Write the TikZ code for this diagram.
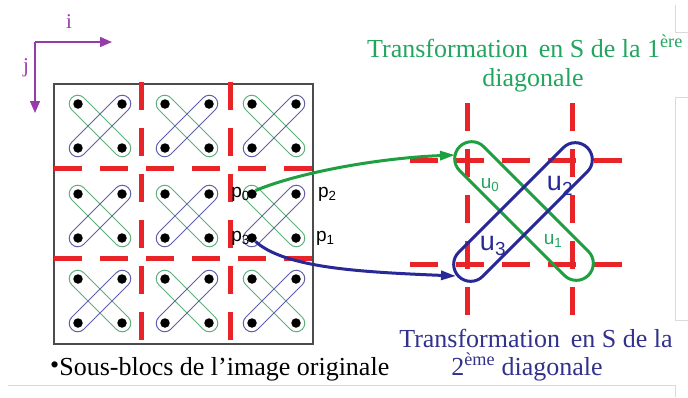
\documentclass[tikz,border=0pt]{standalone}
\usepackage{fontspec}
\setmainfont{Liberation Serif}
\setsansfont{Liberation Sans}
\usepackage{tikz}
\usetikzlibrary{arrows.meta,positioning,calc}
\usepackage{xcolor}
\definecolor{gridred}{RGB}{232,36,40}
\definecolor{loopgreen}{RGB}{95,175,125}
\definecolor{loopblue}{RGB}{95,95,170}
\definecolor{sgreen}{RGB}{30,160,65}
\definecolor{sblue}{RGB}{40,40,150}
\definecolor{tgreen}{RGB}{35,165,95}
\definecolor{tblue}{RGB}{50,50,140}
\definecolor{axpurple}{RGB}{150,60,170}
\definecolor{framegray}{RGB}{218,218,218}

\begin{document}
\begin{tikzpicture}[x=1pt,y=-1pt,
  dot/.style={circle,fill=black,inner sep=0pt,minimum size=9.5pt},
  loopg/.style={draw=loopgreen,line width=1pt,rounded corners=8.5pt,minimum width=80pt,minimum height=17pt,inner sep=0pt,rotate=-45},
  loopb/.style={draw=loopblue,line width=1pt,rounded corners=8.5pt,minimum width=80pt,minimum height=17pt,inner sep=0pt,rotate=45},
  bigloop/.style={line width=3pt,rounded corners=17pt,minimum width=182pt,minimum height=34pt,inner sep=0pt},
  gridline/.style={gridred,line width=5pt,dash pattern=on 28pt off 18pt},
  title/.style={font=\fontsize{26}{29}\selectfont,inner sep=0pt},
  plabel/.style={font=\sffamily\fontsize{19}{20}\selectfont,inner sep=0pt},
  axis/.style={axpurple,line width=1.5pt,-{Triangle[length=12pt,width=10pt]}}]
  \useasboundingbox (0,0) rectangle (688,397);
  \clip (0,0) rectangle (688,397);
  % faint slide frames
  \draw[framegray,line width=1pt] (675,5) -- (675,32) -- (688,32);
  \draw[framegray,line width=1pt] (688,97) -- (675,97) -- (675,320) -- (688,320);
  \draw[framegray,line width=1pt] (8,385) -- (675,385) -- (675,397);
  % axes
  \coordinate (orig) at (35,42);
  \coordinate (iend) at (112,42);
  \coordinate (jend) at (35,113);
  \draw[axis] (orig) -- (iend);
  \draw[axis] (orig) -- (jend);
  \node[axpurple,font=\fontsize{21}{22}\selectfont] (ilab) at (69,22) {i};
  \node[axpurple,font=\fontsize{21}{22}\selectfont] (jlab) at (26,68) {j};
  % original image
  \draw[black!70,line width=1.2pt] (54,84) rectangle (313,344);
  \foreach \gx in {141,230}{\draw[gridline] (\gx,82)--(\gx,344);}
  \foreach \gy in {168,258}{\draw[gridline] (54,\gy)--(313,\gy);}
  \foreach \cx in {100,187,274}{
    \foreach \cy in {126,216,301}{
      \node[loopg] at (\cx,\cy) {};
      \node[loopb] at (\cx,\cy) {};
      \node[dot] (tl-\cx-\cy) at ($(\cx,\cy)+(-22,-22)$) {};
      \node[dot] (tr-\cx-\cy) at ($(\cx,\cy)+(22,-22)$) {};
      \node[dot] (bl-\cx-\cy) at ($(\cx,\cy)+(-22,22)$) {};
      \node[dot] (br-\cx-\cy) at ($(\cx,\cy)+(22,22)$) {};
    }
  }
  \node[plabel,left=-3pt of tl-274-216] (p0) {p\textsubscript{0}};
  \node[plabel,left=-3pt of bl-274-216] (p3) {p\textsubscript{3}};
  \node[plabel,right=17pt of tr-274-216] (p2) {p\textsubscript{2}};
  \node[plabel,right=15pt of br-274-216] (p1) {p\textsubscript{1}};
  \node[anchor=base west,font=\fontsize{26}{29}\selectfont,inner sep=0pt] (cap) at (50,375)
    {{\raisebox{0.1ex}{•}}Sous-blocs de l’image originale};
  % transformed block
  \foreach \gx in {467,572}{\draw[gridline] (\gx,103)--(\gx,315);}
  \foreach \gy in {160,264}{\draw[gridline] (410,\gy)--(622,\gy);}
  \node[bigloop,draw=sgreen,rotate=-45] (sg) at (524,211) {};
  \node[bigloop,draw=sblue,rotate=45] (sb) at (523,212) {};
  \node[tgreen,plabel] (u0) at (490,185) {u\textsubscript{0}};
  \node[tgreen,plabel] (u1) at (553,241) {u\textsubscript{1}};
  \node[sblue,plabel,font=\sffamily\fontsize{27}{28}\selectfont] (u2) at (560,186) {u\textsubscript{2}};
  \node[sblue,plabel,font=\sffamily\fontsize{27}{28}\selectfont] (u3) at (493,246) {u\textsubscript{3}};
  % arrows
  \coordinate (gend) at (455,155);
  \coordinate (bend) at (456,276);
  \draw[sgreen,line width=3pt,-{Triangle[length=15pt,width=9pt]}]
    (tl-274-216.north east) .. controls (300,172) and (380,158) .. (gend);
  \draw[sblue,line width=3pt,-{Triangle[length=15pt,width=9pt]}]
    (bl-274-216.south east) .. controls (285,268) and (360,272) .. (bend);
  % titles
  \node[title,tgreen,anchor=base west] (tg1) at (367,57) {Transformation\, en S de la 1\textsuperscript{ère}};
  \node[title,tgreen,anchor=base] (tg2) at (533,86) {diagonale};
  \node[title,tblue,anchor=base] (tb1) at (536,347) {Transformation\, en S de la};
  \node[title,tblue,anchor=base] (tb2) at (527,375) {2\textsuperscript{ème} diagonale};
\end{tikzpicture}
\end{document}
